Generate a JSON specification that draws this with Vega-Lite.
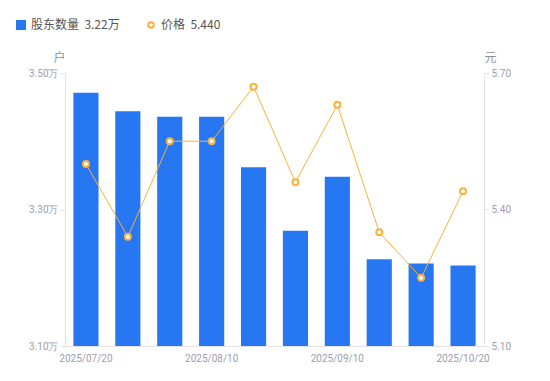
{
  "$schema": "https://vega.github.io/schema/vega-lite/v6.json",
  "autosize": {"type": "none"},
  "width": 419,
  "height": 273,
  "padding": {"left": 65, "top": 73, "right": 66, "bottom": 35},
  "background": "white",
  "config": {
    "font": "Roboto",
    "view": {"stroke": null},
    "axis": {"labelFont": "Roboto", "titleFont": "Noto Sans CJK SC"}
  },
  "data": {
    "values": [
      {"date": "2025/07/20", "holders": 3.471, "price": 5.50},
      {"date": "2025/07/31", "holders": 3.444, "price": 5.34},
      {"date": "2025/08/08", "holders": 3.436, "price": 5.55},
      {"date": "2025/08/10", "holders": 3.436, "price": 5.55},
      {"date": "2025/08/20", "holders": 3.362, "price": 5.67},
      {"date": "2025/08/31", "holders": 3.269, "price": 5.46},
      {"date": "2025/09/10", "holders": 3.348, "price": 5.63},
      {"date": "2025/09/19", "holders": 3.227, "price": 5.35},
      {"date": "2025/09/30", "holders": 3.221, "price": 5.25},
      {"date": "2025/10/20", "holders": 3.218, "price": 5.44}
    ]
  },
  "encoding": {
    "x": {
      "field": "date",
      "type": "ordinal",
      "sort": null,
      "scale": {"paddingInner": 0.4, "paddingOuter": 0.2},
      "axis": {
        "title": null,
        "values": ["2025/07/20", "2025/08/10", "2025/09/10", "2025/10/20"],
        "labelAngle": 0,
        "labelFontSize": 10,
        "labelColor": "#9d9dab",
        "labelPadding": 7,
        "ticks": false,
        "domainColor": "#e3e3e8",
        "grid": false
      }
    }
  },
  "layer": [
    {
      "mark": {"type": "bar", "color": "#2777f2", "clip": true},
      "encoding": {
        "y": {
          "field": "holders",
          "type": "quantitative",
          "scale": {"domain": [3.1, 3.5], "zero": false, "nice": false},
          "axis": {
            "orient": "left",
            "values": [3.1, 3.3, 3.5],
            "labelExpr": "format(datum.value, '.2f') + '万'",
            "labelFontSize": 10,
            "labelColor": "#9d9dab",
            "tickColor": "#e3e3e8",
            "tickSize": 5,
            "labelPadding": 2,
            "domainColor": "#e3e3e8",
            "grid": false,
            "title": "户",
            "titleAngle": 0,
            "titleX": -6,
            "titleY": -16,
            "titleAlign": "center",
            "titleBaseline": "middle",
            "titleFontSize": 12,
            "titleFontWeight": "normal",
            "titleColor": "#8e8e9c"
          }
        },
        "fill": {
          "datum": "股东数量",
          "type": "nominal",
          "scale": {"range": ["#2777f2"]},
          "legend": {
            "title": null,
            "orient": "none",
            "legendX": -50,
            "legendY": -54,
            "symbolType": "square",
            "symbolSize": 100,
            "labelExpr": "'股东数量\u00a0\u00a03.22万'",
            "labelFont": "Noto Sans CJK SC",
            "labelFontSize": 12,
            "labelColor": "#555555"
          }
        }
      }
    },
    {
      "mark": {
        "type": "line",
        "color": "#f8b13c",
        "strokeWidth": 1,
        "point": {"filled": false, "fill": "white", "size": 36, "strokeWidth": 2, "color": "#f8b13c"}
      },
      "encoding": {
        "y": {
          "field": "price",
          "type": "quantitative",
          "scale": {"domain": [5.1, 5.7], "zero": false, "nice": false},
          "axis": {
            "orient": "right",
            "values": [5.1, 5.4, 5.7],
            "format": ".2f",
            "labelFontSize": 10,
            "labelColor": "#9d9dab",
            "tickColor": "#e3e3e8",
            "tickSize": 5,
            "labelPadding": 2,
            "domainColor": "#e3e3e8",
            "grid": false,
            "title": "元",
            "titleAngle": 0,
            "titleX": 6,
            "titleY": -16,
            "titleAlign": "center",
            "titleBaseline": "middle",
            "titleFontSize": 12,
            "titleFontWeight": "normal",
            "titleColor": "#8e8e9c"
          }
        },
        "stroke": {
          "datum": "价格",
          "type": "nominal",
          "scale": {"range": ["#f8b13c"]},
          "legend": {
            "title": null,
            "orient": "none",
            "legendX": 80,
            "legendY": -54,
            "symbolType": "circle",
            "symbolSize": 30,
            "symbolStrokeWidth": 2,
            "symbolFillColor": "white",
            "labelExpr": "'价格\u00a0\u00a05.440'",
            "labelFont": "Noto Sans CJK SC",
            "labelFontSize": 12,
            "labelColor": "#555555"
          }
        }
      }
    }
  ],
  "resolve": {"scale": {"y": "independent", "fill": "independent", "stroke": "independent"}}
}
